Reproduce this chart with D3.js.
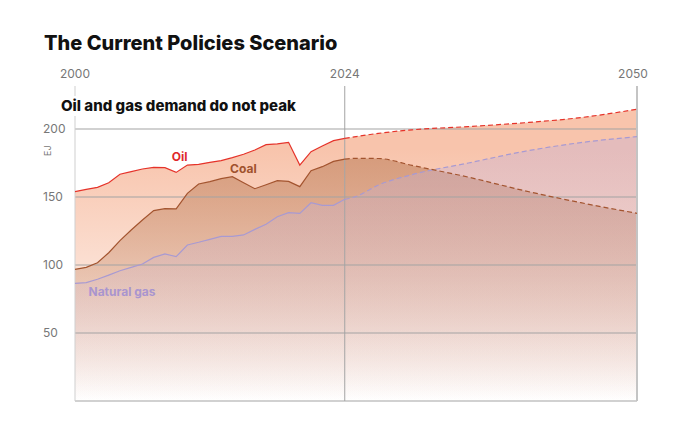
<!DOCTYPE html>
<html>
<head>
<meta charset="utf-8">
<script src="https://cdn.jsdelivr.net/npm/d3@7"></script>
<style>
  body { margin: 0; background: #fff; }
  svg { display: block; font-family: Inter, "Noto Sans", sans-serif; }
</style>
</head>
<body>
<svg width="698" height="426"></svg>
<script>
// historical values, EJ
const histYears = [2000, 2001, 2002, 2003, 2004, 2005, 2006, 2007, 2008, 2009, 2010, 2011, 2012,
                   2013, 2014, 2015, 2016, 2017, 2018, 2019, 2020, 2021, 2022, 2023, 2024];
const oilHist  = [154, 155.6, 157.1, 160.5, 166.7, 168.6, 170.6, 171.8, 171.6, 168.1, 173.5, 174, 175.5,
                  176.7, 178.9, 181.4, 184.6, 188.5, 189, 190.2, 173.5, 183.3, 187.5, 191.4, 193.1];
const coalHist = [96.8, 98.3, 101.7, 109, 117.9, 125.7, 133.1, 140, 141.4, 141.2, 152.7, 159.6, 161.3,
                  163.5, 164.9, 160.5, 156.1, 159, 162, 161.5, 157.6, 169.3, 172.3, 176.2, 177.9];
const gasHist  = [86.5, 87, 89.5, 92.6, 95.8, 98.3, 100.7, 105.6, 108.1, 106.1, 114.7, 116.7, 118.9,
                  121.1, 121.1, 122.1, 126.2, 129.9, 135.5, 138.5, 138, 145.8, 143.9, 143.9, 148.3];

// Current Policies projection
const projYears = [2024, 2025, 2027, 2030, 2035, 2040, 2045, 2050];
const oilProj  = [193.1, 194.4, 196.8, 199.4, 201.8, 204.6, 208.4, 214.5];
const coalProj = [177.9, 178.4, 178.3, 173.2, 164.6, 154.6, 145.8, 138];
const gasProj  = [148.3, 150.4, 158.8, 166.5, 175, 183.6, 190, 194.4];

const yTicks = [200, 150, 100, 50];
const yearMarks = [2000, 2024, 2050];

const series = [
  { name: "Oil", hist: oilHist, proj: oilProj, line: "#e5332a", fill: "#f8c4ac", alpha: 1, label: "#e0282a", lx: 2008.6, lv: 176.5 },
  { name: "Coal", hist: coalHist, proj: coalProj, line: "#a3542f", fill: "#c2835f", alpha: 0.65, label: "#a0522d", lx: 2013.8, lv: 167.3 },
  { name: "Natural gas", hist: gasHist, proj: gasProj, line: "#a89ad2", fill: "#c6b0d4", alpha: 0.4, label: "#a995cf", lx: 2001.2, lv: 77.5 }
];

const svg = d3.select("svg");
const x = d3.scaleLinear().domain([2000, 2050]).range([75, 637]);
const y = d3.scaleLinear().domain([0, 200]).range([401, 129]);

const defs = svg.append("defs");
series.forEach((s, i) => {
  const g = defs.append("linearGradient")
      .attr("id", "grad" + i)
      .attr("gradientUnits", "userSpaceOnUse")
      .attr("x1", 0).attr("x2", 0)
      .attr("y1", y(185)).attr("y2", y(0));
  g.append("stop").attr("offset", 0).attr("stop-color", s.fill).attr("stop-opacity", s.alpha);
  g.append("stop").attr("offset", 1).attr("stop-color", s.fill).attr("stop-opacity", 0);
});

// title
svg.append("text")
    .attr("x", 44).attr("y", 50)
    .attr("font-size", 20).attr("font-weight", 800).attr("fill", "#111")
    .text("The Current Policies Scenario");

// areas
const areaHist = d3.area().x((d, i) => x(histYears[i])).y0(y(0)).y1(d => y(d));
const areaProj = d3.area().x((d, i) => x(projYears[i])).y0(y(0)).y1(d => y(d)).curve(d3.curveMonotoneX);
series.forEach((s, i) => {
  svg.append("path").attr("d", areaHist(s.hist)).attr("fill", `url(#grad${i})`);
  svg.append("path").attr("d", areaProj(s.proj)).attr("fill", `url(#grad${i})`);
});

// grid
svg.append("g").selectAll("line").data(yTicks.concat([0])).join("line")
    .attr("x1", x(2000)).attr("x2", x(2050))
    .attr("y1", d => y(d)).attr("y2", d => y(d))
    .attr("stroke", "#a3a3a3").attr("stroke-width", 1);

svg.append("g").selectAll("line").data(yearMarks).join("line")
    .attr("x1", d => x(d)).attr("x2", d => x(d))
    .attr("y1", 86).attr("y2", y(0))
    .attr("stroke", d => d === 2050 ? "#c4c4c4" : (d === 2000 ? "#cfcfcf" : "#a3a3a3"))
    .attr("stroke-width", d => d === 2050 ? 2 : 1);

svg.append("g").selectAll("text").data(yearMarks).join("text")
    .attr("x", d => d === 2050 ? x(d) - 4 : x(d)).attr("y", 78)
    .attr("text-anchor", "middle")
    .attr("font-size", 12).attr("fill", "#777")
    .text(d => d);

svg.append("g").selectAll("text").data(yTicks).join("text")
    .attr("x", 43).attr("y", d => y(d)).attr("dy", "0.36em")
    .attr("font-size", 12).attr("fill", "#777")
    .text(d => d);

svg.append("text")
    .attr("transform", `translate(51,${y(184)}) rotate(-90)`)
    .attr("text-anchor", "middle")
    .attr("font-size", 9).attr("fill", "#777")
    .text("EJ");

// subtitle with white backing over the 2000 line
svg.append("rect").attr("x", 58).attr("y", 96).attr("width", 244).attr("height", 20).attr("fill", "#fff");
svg.append("text")
    .attr("x", 61).attr("y", 111)
    .attr("font-size", 15).attr("font-weight", 800).attr("fill", "#111")
    .text("Oil and gas demand do not peak");

// lines
const lineHist = d3.line().x((d, i) => x(histYears[i])).y(d => y(d));
const lineProj = d3.line().x((d, i) => x(projYears[i])).y(d => y(d)).curve(d3.curveMonotoneX);
series.slice().reverse().forEach(s => {
  svg.append("path").attr("d", lineHist(s.hist))
      .attr("fill", "none").attr("stroke", s.line).attr("stroke-width", 1.2);
  svg.append("path").attr("d", lineProj(s.proj))
      .attr("fill", "none").attr("stroke", s.line).attr("stroke-width", 1.2)
      .attr("stroke-dasharray", "5,3");
});

// series labels
svg.append("g").selectAll("text").data(series).join("text")
    .attr("x", d => x(d.lx)).attr("y", d => y(d.lv))
    .attr("font-size", 12).attr("font-weight", 700)
    .attr("fill", d => d.label)
    .text(d => d.name);
</script>
</body>
</html>
